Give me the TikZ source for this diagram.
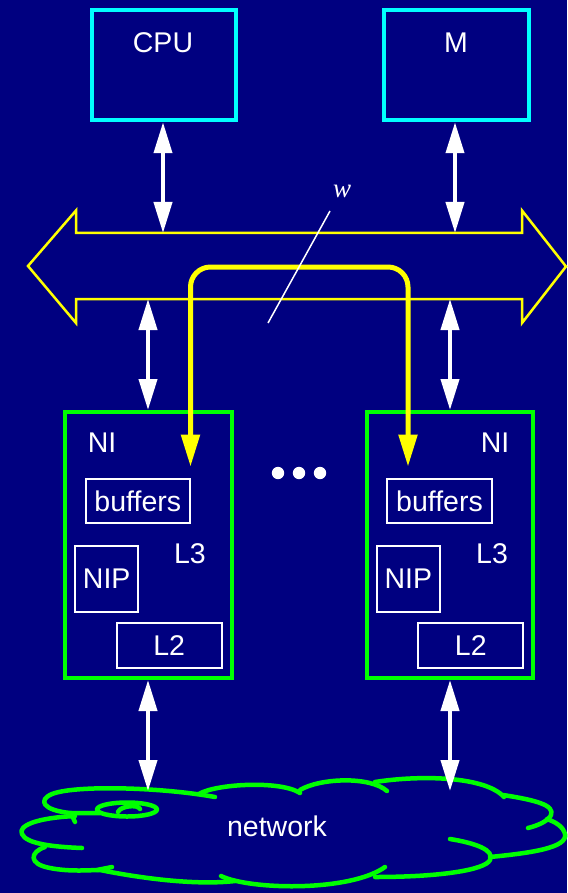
\documentclass[tikz,border=0pt]{standalone}
\usepackage{fontspec}
\setmainfont{Liberation Sans}
\newfontfamily\wfont{Liberation Serif}
\usetikzlibrary{arrows.meta}
\definecolor{bg}{RGB}{0,0,128}
\definecolor{cyanc}{RGB}{0,255,255}
\definecolor{greenc}{RGB}{0,255,0}
\definecolor{yellowc}{RGB}{255,255,0}
\begin{document}
\begin{tikzpicture}[x=1pt,y=-1pt,
  txt/.style={text=white,font=\fontsize{28.5pt}{30pt}\selectfont,inner sep=0pt},
  topbox/.style={draw=cyanc,line width=4pt,minimum width=144pt,minimum height=110pt,inner sep=0pt},
  nibox/.style={draw=greenc,line width=4pt,minimum height=266pt,inner sep=0pt},
  inbox/.style={txt,draw=white,line width=1.8pt},
  warrow/.style={draw=white,line width=4pt,{Triangle[length=31pt,width=18pt]}-{Triangle[length=31pt,width=18pt]}},
  yarrow/.style={draw=yellowc,line width=5pt,rounded corners=20pt,{Triangle[length=32pt,width=18pt]}-{Triangle[length=32pt,width=18pt]}},
  cloudline/.style={draw=greenc,line width=4.5pt,line cap=round,line join=round},
  dotnode/.style={circle,fill=white,minimum size=12.4pt,inner sep=0pt}
]
\useasboundingbox (0,0) rectangle (567,893);
\fill[bg] (0,0) rectangle (567,893);

% top boxes
\node[topbox] (cpu) at (164,65.25) {};
\node[txt] (cpulbl) at (163,42.5) {CPU};
\node[topbox,minimum width=145pt] (mem) at (456,65.25) {};
\node[txt] (memlbl) at (456,42.5) {M};

% bus
\draw[yellowc,line width=2.5pt] (28,266) -- (76,210.5) -- (76,233) -- (522,233) -- (522,210.5) -- (566,266.5) -- (522,323) -- (522,299) -- (76,299) -- (76,323) -- cycle;

\coordinate (cpubus) at (163,233);
\coordinate (membus) at (455,233);
\coordinate (nilbus) at (148,299);
\coordinate (nirbus) at (450,299);

% NI boxes
\node[nibox,minimum width=167pt] (nil) at (148,545) {};
\node[nibox,minimum width=166.5pt] (nir) at (449.75,545) {};

\node[txt] (nillbl) at (102,443) {NI};
\node[txt] (nirlbl) at (495,443) {NI};
\node[txt] (l3l) at (190,554) {L3};
\node[txt] (l3r) at (492,554) {L3};

\node[inbox,minimum width=104pt,minimum height=44pt] (bufl) at (137.8,501) {buffers};
\node[inbox,minimum width=63pt,minimum height=66.6pt] (nipl) at (106.7,579) {NIP};
\node[inbox,minimum width=105pt,minimum height=45pt] (l2l) at (169.2,645.8) {L2};
\node[inbox,minimum width=105.6pt,minimum height=44pt] (bufr) at (439.5,501) {buffers};
\node[inbox,minimum width=63.3pt,minimum height=66.6pt] (nipr) at (408.3,579) {NIP};
\node[inbox,minimum width=105pt,minimum height=45pt] (l2r) at (470.8,645.8) {L2};

% dots
\node[dotnode] (d1) at (278,473) {};
\node[dotnode] (d2) at (299,473) {};
\node[dotnode] (d3) at (320,473) {};

% yellow path
\coordinate (yl) at (190.5,466.7);
\coordinate (yr) at (408,466.7);
\draw[yarrow] (yl) -- (190.5,267) -- (408,267) -- (yr);

% w label
\node[text=white,font=\wfont\itshape\fontsize{27pt}{29pt}\selectfont,inner sep=0pt] (wlbl) at (342,191) {w};
\coordinate (wa) at (330,211);
\coordinate (wb) at (268,323);
\draw[white,line width=1.5pt] (wa) -- (wb);

% cloud
\draw[cloudline] (215,797) .. controls (160,787) and (75,785) .. (52,794) .. controls (38,800) and (42,810) .. (70,813) -- (100,813);
\draw[cloudline] (127,809.5) ellipse [x radius=30pt, y radius=7pt];
\draw[cloudline] (118,812) .. controls (120,806) and (138,804) .. (140,809);
\draw[cloudline] (71,813) -- (75,822);
\draw[cloudline] (75,816) .. controls (35,818) and (18,826) .. (22,834) .. controls (26,844) and (55,847) .. (82,848);
\draw[cloudline] (45,847) .. controls (30,852) and (28,864) .. (50,868) .. controls (70,872) and (90,870) .. (100,870) .. controls (150,880) and (200,885) .. (235,881);
\draw[cloudline] (97,870) -- (112,867);
\draw[cloudline] (221,876) .. controls (250,890) and (350,892) .. (385,867);
\draw[cloudline] (450,839) .. controls (475,843) and (495,850) .. (490,860) .. controls (485,870) and (440,877) .. (375,877);
\draw[cloudline] (490,857) .. controls (530,853) and (568,848) .. (565,834) .. controls (563,826) and (555,822) .. (547,819);
\draw[cloudline] (503,795) .. controls (535,800) and (555,805) .. (551,815) .. controls (549,820) and (540,825) .. (528,828);
\draw[cloudline] (375,782) .. controls (420,775) and (485,776) .. (504,797);
\draw[cloudline] (300,790) .. controls (320,778) and (370,776) .. (387,791);
\draw[cloudline] (199,794) .. controls (215,784) and (280,780) .. (300,793);
\node[txt] (netlbl) at (277,826) {network};

\coordinate (netl) at (148,791);
\coordinate (netr) at (450,791);

% white arrows
\draw[warrow] (cpubus |- cpu.south) -- (cpubus);
\draw[warrow] (membus |- mem.south) -- (membus);
\draw[warrow] (nilbus) -- (nilbus |- nil.north);
\draw[warrow] (nirbus) -- (nirbus |- nir.north);
\draw[warrow] (nilbus |- nil.south) -- (netl);
\draw[warrow] (nirbus |- nir.south) -- (netr);
\end{tikzpicture}
\end{document}
